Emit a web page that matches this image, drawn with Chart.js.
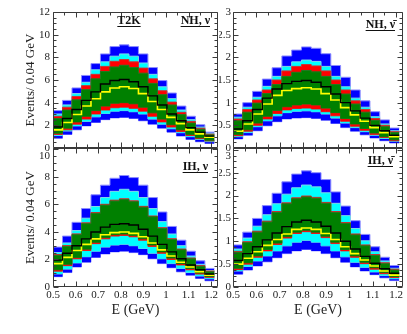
<!DOCTYPE html>
<html><head><meta charset="utf-8">
<script src="https://cdn.jsdelivr.net/npm/chart.js@4/dist/chart.umd.min.js"></script>
<style>
html,body{margin:0;padding:0;background:#fff;overflow:hidden;width:407px;height:334px;position:relative}
canvas{position:absolute;left:0;top:0}
</style></head><body>
<canvas id="c0" width="460" height="370"></canvas>
<canvas id="c1" width="460" height="370"></canvas>
<canvas id="c2" width="460" height="370"></canvas>
<canvas id="c3" width="460" height="370"></canvas>
<script>
// ---- bins (lower edges, GeV) ----
const binLow = [0.500, 0.542, 0.584, 0.626, 0.668, 0.710, 0.752, 0.794, 0.836, 0.878, 0.920, 0.962, 1.004, 1.046, 1.088, 1.130, 1.172];
const binHigh = 1.214;

// ---- tick labels ----
const xTickValues = [0.5, 0.6, 0.7, 0.8, 0.9, 1.0, 1.1, 1.2];
const xTickLabels = ['0.5', '0.6', '0.7', '0.8', '0.9', '1', '1.1', '1.2'];
const yTicksNH_nu = [0, 2, 4, 6, 8, 10, 12];
const yLabelsNH_nu = ['0', '2', '4', '6', '8', '10', '12'];
const yTicksIH_nu = [0, 2, 4, 6, 8, 10];
const yLabelsIH_nu = ['0', '2', '4', '6', '8', '10'];
const yTicksBar = [0, 0.5, 1, 1.5, 2, 2.5, 3];
const yLabelsBar = ['0', '0.5', '1', '1.5', '2', '2.5', '3'];

// ---- NH, nu ----
const nhNuBlack  = [1.85, 2.6, 3.4, 4.2, 4.95, 5.65, 5.95, 6.05, 5.85, 5.4, 4.6, 3.8, 3.0, 2.4, 1.8, 1.4, 1.05];
const nhNuYellow = [1.6, 2.25, 2.95, 3.7, 4.35, 4.95, 5.3, 5.4, 5.25, 4.8, 4.1, 3.4, 2.7, 2.15, 1.6, 1.25, 0.95];
const nhNuBlueHi = [3.3, 4.2, 5.3, 6.4, 7.45, 8.3, 8.95, 9.1, 8.95, 8.3, 7.1, 5.95, 4.85, 3.7, 2.8, 2.05, 1.4];
const nhNuCyanHi = [3.0, 3.8, 4.8, 5.8, 6.9, 7.6, 8.1, 8.3, 8.1, 7.5, 6.5, 5.4, 4.35, 3.35, 2.5, 1.85, 1.3];
const nhNuRedHi  = [2.8, 3.6, 4.55, 5.5, 6.5, 7.2, 7.65, 7.8, 7.6, 7.05, 6.1, 5.05, 4.05, 3.15, 2.35, 1.75, 1.22];
const nhNuGreenHi= [2.6, 3.35, 4.25, 5.15, 6.1, 6.75, 7.15, 7.3, 7.1, 6.6, 5.7, 4.7, 3.8, 2.95, 2.2, 1.65, 1.15];
const nhNuGreenLo= [1.3, 1.75, 2.3, 2.8, 3.3, 3.7, 3.95, 4.0, 3.9, 3.6, 3.1, 2.55, 2.05, 1.6, 1.2, 0.9, 0.68];
const nhNuRedLo  = [1.2, 1.6, 2.1, 2.55, 3.0, 3.35, 3.55, 3.6, 3.5, 3.25, 2.8, 2.3, 1.85, 1.45, 1.1, 0.82, 0.62];
const nhNuCyanLo = [1.1, 1.5, 1.95, 2.35, 2.75, 3.05, 3.25, 3.3, 3.2, 3.0, 2.55, 2.1, 1.7, 1.35, 1.0, 0.75, 0.56];
const nhNuBlueLo = [0.85, 1.2, 1.6, 1.95, 2.25, 2.5, 2.65, 2.7, 2.6, 2.4, 2.1, 1.75, 1.4, 1.05, 0.75, 0.55, 0.4];

// ---- NH, anti-nu ----
const nhBarBlack  = [0.42, 0.6, 0.85, 1.1, 1.3, 1.42, 1.47, 1.49, 1.45, 1.35, 1.19, 1.0, 0.82, 0.66, 0.5, 0.38, 0.28];
const nhBarYellow = [0.37, 0.53, 0.75, 0.97, 1.16, 1.27, 1.31, 1.33, 1.3, 1.2, 1.06, 0.89, 0.73, 0.59, 0.45, 0.34, 0.25];
const nhBarBlueHi = [0.75, 1.0, 1.25, 1.52, 1.77, 2.03, 2.16, 2.23, 2.2, 2.08, 1.82, 1.56, 1.28, 1.04, 0.8, 0.62, 0.44];
const nhBarCyanHi = [0.68, 0.9, 1.12, 1.36, 1.58, 1.8, 1.9, 1.94, 1.91, 1.8, 1.58, 1.35, 1.1, 0.9, 0.69, 0.53, 0.38];
const nhBarRedHi  = [0.64, 0.85, 1.06, 1.28, 1.5, 1.7, 1.8, 1.84, 1.81, 1.7, 1.5, 1.28, 1.04, 0.85, 0.65, 0.5, 0.36];
const nhBarGreenHi= [0.6, 0.79, 0.99, 1.2, 1.4, 1.58, 1.67, 1.71, 1.68, 1.58, 1.4, 1.19, 0.97, 0.79, 0.61, 0.47, 0.34];
const nhBarGreenLo= [0.3, 0.4, 0.55, 0.7, 0.83, 0.91, 0.95, 0.97, 0.95, 0.88, 0.78, 0.65, 0.53, 0.43, 0.33, 0.25, 0.18];
const nhBarRedLo  = [0.27, 0.37, 0.5, 0.64, 0.76, 0.84, 0.87, 0.88, 0.86, 0.8, 0.71, 0.59, 0.48, 0.39, 0.3, 0.23, 0.16];
const nhBarCyanLo = [0.25, 0.34, 0.47, 0.6, 0.71, 0.78, 0.81, 0.82, 0.8, 0.75, 0.66, 0.55, 0.45, 0.36, 0.28, 0.21, 0.15];
const nhBarBlueLo = [0.2, 0.28, 0.38, 0.49, 0.58, 0.64, 0.66, 0.67, 0.65, 0.61, 0.54, 0.45, 0.37, 0.29, 0.22, 0.16, 0.11];

// ---- IH, nu ----
const ihNuBlack  = [1.95, 2.45, 3.0, 3.5, 4.0, 4.35, 4.55, 4.6, 4.5, 4.2, 3.7, 3.1, 2.55, 2.05, 1.6, 1.25, 0.95];
const ihNuYellow = [1.7, 2.15, 2.65, 3.1, 3.5, 3.8, 3.95, 4.0, 3.9, 3.65, 3.2, 2.7, 2.25, 1.8, 1.45, 1.12, 0.85];
const ihNuBlueHi = [2.9, 3.7, 4.7, 5.7, 6.7, 7.4, 7.9, 8.1, 7.95, 7.4, 6.5, 5.45, 4.4, 3.4, 2.6, 1.9, 1.35];
const ihNuCyanHi = [2.5, 3.2, 4.1, 5.0, 5.85, 6.5, 6.95, 7.1, 6.95, 6.5, 5.7, 4.75, 3.85, 3.0, 2.25, 1.65, 1.2];
const ihNuRedHi  = [2.36, 3.01, 3.86, 4.66, 5.41, 6.01, 6.31, 6.41, 6.26, 5.86, 5.16, 4.31, 3.51, 2.76, 2.11, 1.56, 1.16];
const ihNuGreenHi= [2.3, 2.95, 3.8, 4.6, 5.35, 5.95, 6.25, 6.35, 6.2, 5.8, 5.1, 4.25, 3.45, 2.7, 2.05, 1.5, 1.1];
const ihNuGreenLo= [1.25, 1.65, 2.15, 2.75, 3.25, 3.6, 3.8, 3.85, 3.75, 3.5, 3.05, 2.55, 2.1, 1.7, 1.35, 1.02, 0.77];
const ihNuRedLo  = [1.15, 1.55, 2.05, 2.65, 3.15, 3.5, 3.7, 3.75, 3.65, 3.4, 2.95, 2.45, 2.0, 1.6, 1.25, 0.94, 0.7];
const ihNuCyanLo = [0.95, 1.3, 1.75, 2.2, 2.6, 2.9, 3.05, 3.1, 3.0, 2.8, 2.45, 2.05, 1.7, 1.35, 1.05, 0.8, 0.6];
const ihNuBlueLo = [0.75, 1.05, 1.45, 1.8, 2.15, 2.4, 2.55, 2.6, 2.5, 2.35, 2.05, 1.7, 1.4, 1.1, 0.85, 0.62, 0.45];

// ---- IH, anti-nu ----
const ihBarBlack  = [0.58, 0.73, 0.88, 1.03, 1.18, 1.32, 1.42, 1.46, 1.42, 1.33, 1.18, 1.0, 0.83, 0.67, 0.52, 0.4, 0.3];
const ihBarYellow = [0.5, 0.63, 0.77, 0.91, 1.04, 1.16, 1.26, 1.29, 1.26, 1.17, 1.04, 0.88, 0.73, 0.59, 0.46, 0.35, 0.26];
const ihBarBlueHi = [0.92, 1.2, 1.5, 1.78, 2.05, 2.3, 2.47, 2.54, 2.5, 2.35, 2.08, 1.77, 1.45, 1.15, 0.88, 0.65, 0.47];
const ihBarCyanHi = [0.83, 1.07, 1.33, 1.58, 1.82, 2.03, 2.17, 2.23, 2.19, 2.06, 1.83, 1.56, 1.28, 1.01, 0.77, 0.57, 0.41];
const ihBarRedHi  = [0.78, 0.99, 1.22, 1.44, 1.65, 1.84, 1.95, 1.99, 1.96, 1.85, 1.65, 1.41, 1.16, 0.92, 0.71, 0.53, 0.39];
const ihBarGreenHi= [0.76, 0.97, 1.2, 1.42, 1.63, 1.82, 1.93, 1.97, 1.94, 1.83, 1.63, 1.39, 1.14, 0.9, 0.69, 0.51, 0.37];
const ihBarGreenLo= [0.41, 0.53, 0.68, 0.82, 0.96, 1.1, 1.2, 1.24, 1.2, 1.11, 0.98, 0.82, 0.68, 0.54, 0.42, 0.32, 0.23];
const ihBarRedLo  = [0.38, 0.5, 0.65, 0.79, 0.93, 1.07, 1.17, 1.21, 1.17, 1.08, 0.95, 0.79, 0.65, 0.51, 0.39, 0.29, 0.21];
const ihBarCyanLo = [0.35, 0.45, 0.57, 0.68, 0.79, 0.9, 0.98, 1.02, 0.98, 0.9, 0.79, 0.66, 0.54, 0.43, 0.33, 0.25, 0.18];
const ihBarBlueLo = [0.28, 0.37, 0.46, 0.55, 0.64, 0.73, 0.79, 0.82, 0.79, 0.73, 0.64, 0.54, 0.44, 0.35, 0.27, 0.2, 0.14];

// ---------------- drawing ----------------
const CW = 460, CH = 370;
const SERIF = "'Liberation Serif', 'DejaVu Serif', serif";
const COL = {blue:'#0000ff', cyan:'#00ffff', red:'#ff0000', green:'#008000'};
const EDGE = {blue:'#8c8cff', cyan:'#7fd8e8', red:'#d03030', green:'#1f7a1f'};

function stepPoints(vals) {
  const pts = vals.map((v, i) => ({x: binLow[i], y: v}));
  pts.push({x: binHigh, y: vals[vals.length - 1]});
  return pts;
}

const frameTicks = {
  id: 'frameTicks',
  afterDatasetsDraw(chart, args, o) {
    const {ctx, chartArea: a, scales: {x, y}} = chart;
    ctx.save();
    ctx.strokeStyle = '#3a3a3a';
    ctx.lineWidth = 1;
    const L = Math.round(a.left) + 0.5, R = Math.round(a.right) - 0.5;
    const T = Math.round(a.top) + 0.5, B = Math.round(a.bottom) - 0.5;
    ctx.beginPath();
    ctx.rect(L, T, R - L, B - T);
    ctx.stroke();
    ctx.beginPath();
    const isMajor = (sc, v) => sc.ticks.some(t => Math.abs(t.value - v) < 1e-6);
    for (let k = Math.ceil(x.min / o.xMinor - 1e-6); k * o.xMinor <= x.max + 1e-9; k++) {
      const v = k * o.xMinor;
      const px = Math.round(x.getPixelForValue(v)) + 0.5;
      const len = isMajor(x, v) ? 5 : 3;
      ctx.moveTo(px, B); ctx.lineTo(px, B - len);
      ctx.moveTo(px, T); ctx.lineTo(px, T + len);
    }
    for (let k = Math.ceil(y.min / o.yMinor - 1e-6); k * o.yMinor <= y.max + 1e-9; k++) {
      const v = k * o.yMinor;
      const py = Math.round(y.getPixelForValue(v)) + 0.5;
      const len = isMajor(y, v) ? 5 : 3;
      ctx.moveTo(L, py); ctx.lineTo(L + len, py);
      ctx.moveTo(R, py); ctx.lineTo(R - len, py);
    }
    ctx.stroke();
    // panel notes
    ctx.fillStyle = '#111';
    ctx.font = 'bold 12px ' + SERIF;
    ctx.textBaseline = 'alphabetic';
    (o.notes || []).forEach(n => {
      const w = ctx.measureText(n.text).width;
      let x0;
      if (n.align === 'center') x0 = a.left + n.dx - w / 2;
      else x0 = a.right - n.dx - w;
      const yb = a.top + n.dy;
      ctx.textAlign = 'left';
      ctx.fillText(n.text, x0, yb);
      ctx.beginPath();
      ctx.moveTo(x0, yb + 2.5); ctx.lineTo(x0 + w, yb + 2.5);
      ctx.strokeStyle = '#111'; ctx.lineWidth = 1;
      ctx.stroke();
    });
    ctx.restore();
  }
};

function makePanel(id, p) {
  const s = p.series;
  const line = (vals, color, width) => ({
    data: stepPoints(vals), borderColor: color, borderWidth: width,
    fill: false, stepped: true, pointRadius: 0, tension: 0
  });
  const bandHi = (vals, name, target) => ({
    data: stepPoints(vals), borderColor: EDGE[name], borderWidth: 1,
    backgroundColor: COL[name], fill: target, stepped: true, pointRadius: 0, tension: 0
  });
  const bandLo = (vals, name) => ({
    data: stepPoints(vals), borderColor: EDGE[name], borderWidth: 1,
    fill: false, stepped: true, pointRadius: 0, tension: 0
  });
  const datasets = [
    line(s.black, '#000000', 1.4),
    line(s.yellow, '#ffff00', 1.6),
    bandHi(s.greenHi, 'green', 3), bandLo(s.greenLo, 'green'),
    bandHi(s.redHi, 'red', 5), bandLo(s.redLo, 'red'),
    bandHi(s.cyanHi, 'cyan', 7), bandLo(s.cyanLo, 'cyan'),
    bandHi(s.blueHi, 'blue', 9), bandLo(s.blueLo, 'blue')
  ];
  const a = p.area;
  new Chart(document.getElementById(id), {
    type: 'line',
    data: {datasets},
    options: {
      responsive: false, animation: false, devicePixelRatio: 1,
      layout: {padding: {left: a.l - p.yW, top: a.t, right: CW - a.r, bottom: CH - a.b - p.xH}},
      plugins: {
        legend: {display: false}, tooltip: {enabled: false},
        frameTicks: {xMinor: 0.05, yMinor: p.yMinor, notes: p.notes}
      },
      scales: {
        x: {
          type: 'linear', min: 0.5, max: 1.23,
          afterBuildTicks: sc => { sc.ticks = xTickValues.map(v => ({value: v})); },
          afterFit: sc => { sc.height = p.xH; },
          grid: {display: false, drawTicks: false}, border: {display: false},
          ticks: {display: p.showX, autoSkip: false, maxRotation: 0, padding: 2,
                  font: {family: SERIF, size: 11}, color: '#222',
                  callback: (v, i) => xTickLabels[i]},
          title: {display: p.showX, text: 'E (GeV)', color: '#222',
                  font: {family: SERIF, size: 14}, padding: {top: 0, bottom: 2}}
        },
        y: {
          type: 'linear', min: 0, max: p.yMax,
          afterBuildTicks: sc => { sc.ticks = p.yTicks.map(v => ({value: v})); },
          afterFit: sc => { sc.width = p.yW; },
          grid: {display: false, drawTicks: false}, border: {display: false},
          ticks: {autoSkip: false, padding: p.yPad,
                  font: {family: SERIF, size: 11}, color: '#222',
                  callback: (v, i) => (p.shiftTop && i === p.yTicks.length - 1) ? ['', p.yLabels[i]] : p.yLabels[i]},
          title: {display: p.showYTitle, text: 'Events/ 0.04 GeV', color: '#222',
                  font: {family: SERIF, size: 13}, padding: {top: 3, bottom: 0}}
        }
      }
    },
    plugins: [frameTicks]
  });
}

makePanel('c0', {
  area: {l: 53, t: 12, r: 218, b: 148}, yW: 33, xH: 0, yPad: 3,
  yMax: 12, yTicks: yTicksNH_nu, yLabels: yLabelsNH_nu, yMinor: 0.5,
  showX: false, showYTitle: true, shiftTop: false,
  notes: [{text: 'T2K', align: 'center', dx: 76, dy: 12}, {text: 'NH, ν', align: 'right', dx: 8, dy: 12}],
  series: {black: nhNuBlack, yellow: nhNuYellow, blueHi: nhNuBlueHi, cyanHi: nhNuCyanHi, redHi: nhNuRedHi,
           greenHi: nhNuGreenHi, greenLo: nhNuGreenLo, redLo: nhNuRedLo, cyanLo: nhNuCyanLo, blueLo: nhNuBlueLo}
});
makePanel('c1', {
  area: {l: 233, t: 12, r: 403, b: 148}, yW: 14, xH: 0, yPad: 2,
  yMax: 3, yTicks: yTicksBar, yLabels: yLabelsBar, yMinor: 0.125,
  showX: false, showYTitle: false, shiftTop: false,
  notes: [{text: 'NH, ν̄', align: 'right', dx: 8, dy: 16}],
  series: {black: nhBarBlack, yellow: nhBarYellow, blueHi: nhBarBlueHi, cyanHi: nhBarCyanHi, redHi: nhBarRedHi,
           greenHi: nhBarGreenHi, greenLo: nhBarGreenLo, redLo: nhBarRedLo, cyanLo: nhBarCyanLo, blueLo: nhBarBlueLo}
});
makePanel('c2', {
  area: {l: 53, t: 148, r: 218, b: 287}, yW: 33, xH: 34, yPad: 3,
  yMax: 10.1, yTicks: yTicksIH_nu, yLabels: yLabelsIH_nu, yMinor: 0.5,
  showX: true, showYTitle: true, shiftTop: true,
  notes: [{text: 'IH, ν', align: 'right', dx: 10, dy: 22}],
  series: {black: ihNuBlack, yellow: ihNuYellow, blueHi: ihNuBlueHi, cyanHi: ihNuCyanHi, redHi: ihNuRedHi,
           greenHi: ihNuGreenHi, greenLo: ihNuGreenLo, redLo: ihNuRedLo, cyanLo: ihNuCyanLo, blueLo: ihNuBlueLo}
});
makePanel('c3', {
  area: {l: 233, t: 148, r: 403, b: 287}, yW: 14, xH: 34, yPad: 2,
  yMax: 3.04, yTicks: yTicksBar, yLabels: yLabelsBar, yMinor: 0.125,
  showX: true, showYTitle: false, shiftTop: true,
  notes: [{text: 'IH, ν̄', align: 'right', dx: 10, dy: 16}],
  series: {black: ihBarBlack, yellow: ihBarYellow, blueHi: ihBarBlueHi, cyanHi: ihBarCyanHi, redHi: ihBarRedHi,
           greenHi: ihBarGreenHi, greenLo: ihBarGreenLo, redLo: ihBarRedLo, cyanLo: ihBarCyanLo, blueLo: ihBarBlueLo}
});
</script>
</body></html>
